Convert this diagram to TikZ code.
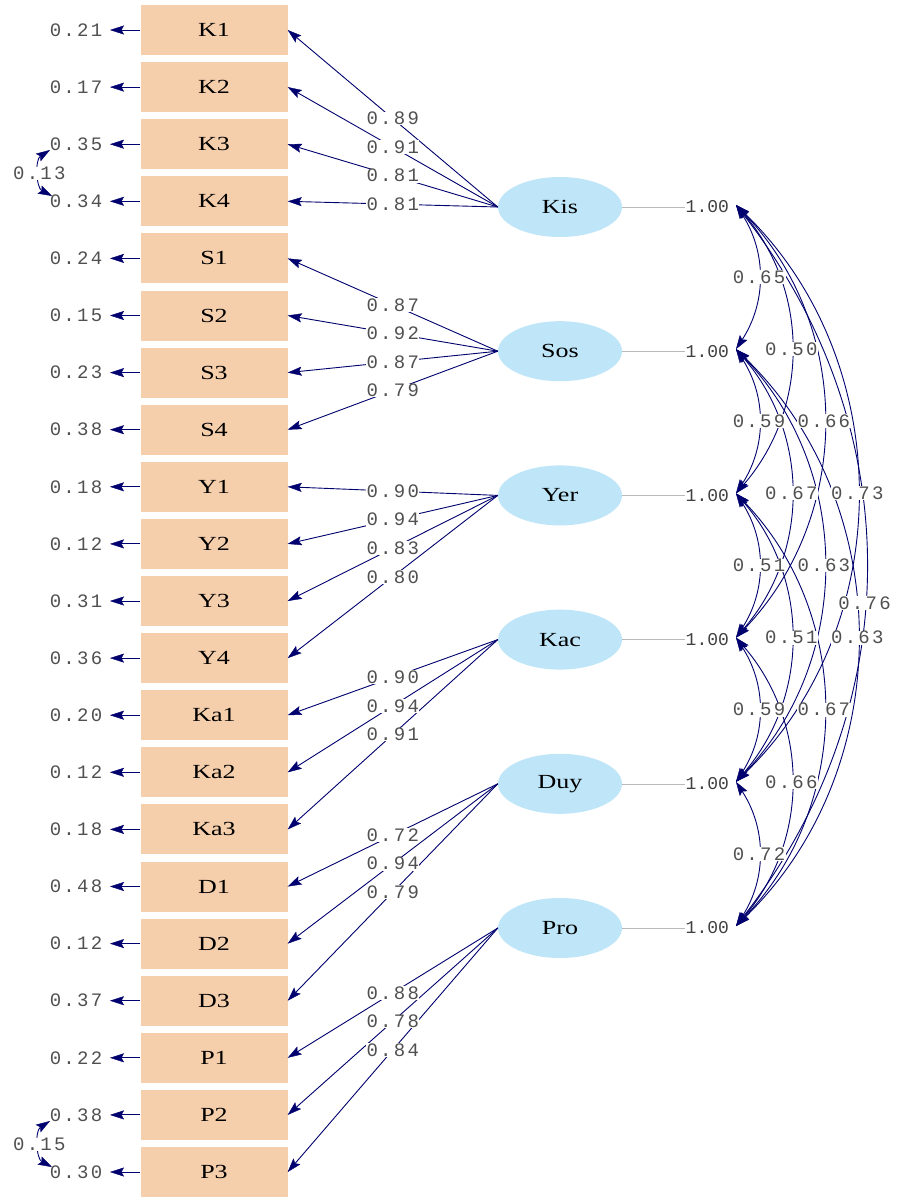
\documentclass[tikz,border=0pt]{standalone}
\usepackage{fontspec}
\setmainfont{Liberation Serif}
\newfontfamily\lblfont{Liberation Serif}[FakeStretch=1.3]
\newfontfamily\numfont{Liberation Mono}[LetterSpace=12]
\newfontfamily\onefont{Liberation Mono}
\usetikzlibrary{arrows.meta,shapes.geometric}

\definecolor{boxfill}{RGB}{245,206,172}
\definecolor{latfill}{RGB}{190,230,248}
\definecolor{pathcol}{RGB}{0,0,110}
\definecolor{numcol}{RGB}{80,80,80}

\tikzset{
  obs/.style={rectangle,fill=boxfill,minimum width=147pt,minimum height=50pt,inner sep=0pt,
    font=\lblfont\fontsize{20}{22}\selectfont},
  lat/.style={ellipse,fill=latfill,minimum width=124pt,minimum height=60pt,inner sep=0pt,
    font=\lblfont\fontsize{20}{22}\selectfont},
  coef/.style={font=\numfont\fontsize{19}{21}\selectfont,text=numcol,fill=white,inner sep=0.5pt},
  errnum/.style={font=\numfont\fontsize{19}{21}\selectfont,text=numcol,inner sep=0.5pt},
  unit/.style={font=\onefont\fontsize{18}{20}\selectfont,text=numcol!80!black,inner sep=0.5pt},
  tip/.tip={Stealth[length=14pt,width=9pt,inset=2.5pt,line width=0.4pt]},
  arr/.style={draw=pathcol,line width=0.9pt,-tip},
  dbl/.style={draw=pathcol,line width=0.9pt,tip-tip},
}

\def\loadlist{Kis/K1/0.89,Kis/K2/0.91,Kis/K3/0.81,Kis/K4/0.81,
  Sos/S1/0.87,Sos/S2/0.92,Sos/S3/0.87,Sos/S4/0.79,
  Yer/Y1/0.90,Yer/Y2/0.94,Yer/Y3/0.83,Yer/Y4/0.80,
  Kac/Ka1/0.90,Kac/Ka2/0.94,Kac/Ka3/0.91,
  Duy/D1/0.72,Duy/D2/0.94,Duy/D3/0.79,
  Pro/P1/0.88,Pro/P2/0.78,Pro/P3/0.84}
\def\corrlist{Kis/Sos/33/0.65/0.5,Sos/Yer/33/0.59/0.5,Yer/Kac/33/0.51/0.5,Kac/Duy/33/0.59/0.5,Duy/Pro/33/0.72/0.5,
  Kis/Yer/41/0.50/0.5,Sos/Kac/41/0.67/0.5,Yer/Duy/41/0.51/0.5,Kac/Pro/41/0.66/0.5,
  Kis/Kac/44/0.66/0.5,Sos/Duy/44/0.63/0.5,Yer/Pro/44/0.67/0.5,
  Kis/Duy/46/0.73/0.5,Sos/Pro/46/0.63/0.5,
  Kis/Pro/38/0.76/0.55}

\begin{document}
\begin{tikzpicture}[x=1pt,y=-1pt]
\path[use as bounding box,fill=white] (0,0) rectangle (900,1200);

% indicators with error variances
\foreach \b/\e [count=\i from 0] in {K1/0.21,K2/0.17,K3/0.35,K4/0.34,S1/0.24,S2/0.15,S3/0.23,S4/0.38,
  Y1/0.18,Y2/0.12,Y3/0.31,Y4/0.36,Ka1/0.20,Ka2/0.12,Ka3/0.18,D1/0.48,D2/0.12,D3/0.37,P1/0.22,P2/0.38,P3/0.30} {
  \node[obs] (\b) at (214,{30+57.1*\i}) {\b};
  \coordinate (e\b) at (110,{30+57.1*\i});
  \node[errnum] (t\b) at (76,{30+57.1*\i}) {\e};
  \draw[arr] (\b.west) -- (e\b);
}

% latent factors
\foreach \f [count=\i from 0] in {Kis,Sos,Yer,Kac,Duy,Pro} {
  \node[lat] (\f) at (560,{207+144.2*\i}) {\f};
  \node[unit,anchor=west] (v\f) at (685,{207+144.2*\i}) {1.00};
  \draw[gray!55] (\f.east) -- (v\f.west);
  \coordinate (c\f) at (736,{205+144.2*\i});
}

% loadings
\foreach \f/\b/\l in \loadlist
  \draw[arr] (\f.west) -- (\b.east);
\foreach \f/\b/\l in \loadlist
  \path (\f.west) -- node[coef] {\l} (\b.east);

% factor correlations
\foreach \a/\c/\r/\v/\p in \corrlist
  \draw[dbl] (c\a) to[bend left=\r] (c\c);
\foreach \a/\c/\r/\v/\p in \corrlist
  \path (c\a) to[bend left=\r] node[coef,pos=\p] {\v} (c\c);

% correlated errors
\coordinate (k3) at (50,150);
\coordinate (k4) at (52,196);
\coordinate (p2) at (50,1121);
\coordinate (p3) at (52,1167);
\draw[dbl] (k3) to[bend right=60] node[coef] {0.13} (k4);
\draw[dbl] (p2) to[bend right=60] node[coef] {0.15} (p3);
\end{tikzpicture}
\end{document}
